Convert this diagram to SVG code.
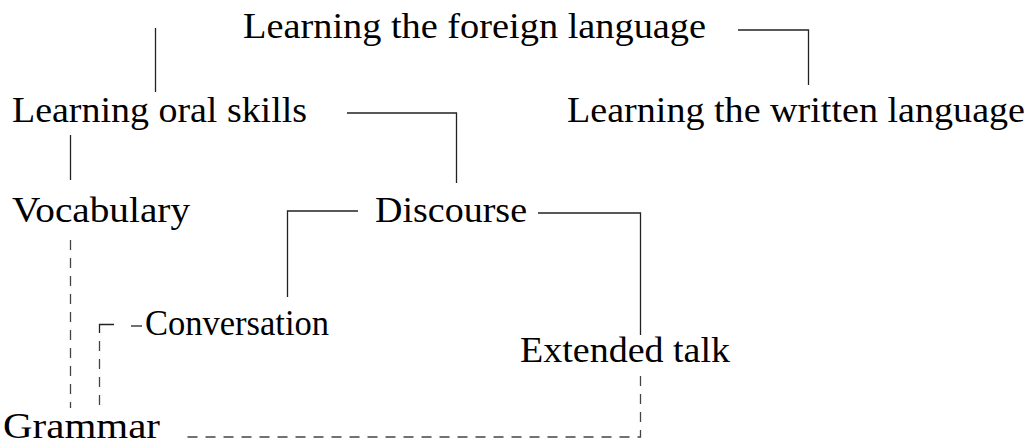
<svg xmlns="http://www.w3.org/2000/svg" width="1030" height="445" viewBox="0 0 1030 445">
<style>
text{font-family:"Liberation Serif","Times New Roman",serif;font-size:35px;fill:#000}
.s{fill:none;stroke:#222;stroke-width:1.3}
.d{fill:none;stroke:#444;stroke-width:1.3;stroke-dasharray:10 8}
</style>
<rect width="1030" height="445" fill="#fff"/>
<g id="connectors">
<path class="s" d="M155.5 28V92"/>
<path class="s" d="M738 30H808.5V85"/>
<path class="s" d="M347 113H456.5V183"/>
<path class="s" d="M70.5 135V180"/>
<path class="s" d="M358 211H287.5V297"/>
<path class="s" d="M538 213H640.5V335"/>
<path class="d" d="M70.5 240V408"/>
<path class="s" d="M131 326H142"/>
<path class="s" d="M114 324.5H99.5V333"/>
<path class="d" d="M99.5 341V408"/>
<path class="d" d="M640.5 376V437H180"/>
</g>
<g id="n-foreign"><text x="243" y="38" textLength="463" lengthAdjust="spacingAndGlyphs">Learning the foreign language</text></g>
<g id="n-written"><text x="567" y="122" textLength="458" lengthAdjust="spacingAndGlyphs">Learning the written language</text></g>
<g id="n-oral"><text x="12" y="122" textLength="295" lengthAdjust="spacingAndGlyphs">Learning oral skills</text></g>
<g id="n-vocab"><text x="12" y="222" textLength="178" lengthAdjust="spacingAndGlyphs">Vocabulary</text></g>
<g id="n-discourse"><text x="375" y="222" textLength="152" lengthAdjust="spacingAndGlyphs">Discourse</text></g>
<g id="n-conversation"><text x="145" y="335" textLength="184" lengthAdjust="spacingAndGlyphs">Conversation</text></g>
<g id="n-extended"><text x="520" y="362" textLength="210" lengthAdjust="spacingAndGlyphs">Extended talk</text></g>
<g id="n-grammar"><text x="3" y="438" textLength="157" lengthAdjust="spacingAndGlyphs">Grammar</text></g>
</svg>
